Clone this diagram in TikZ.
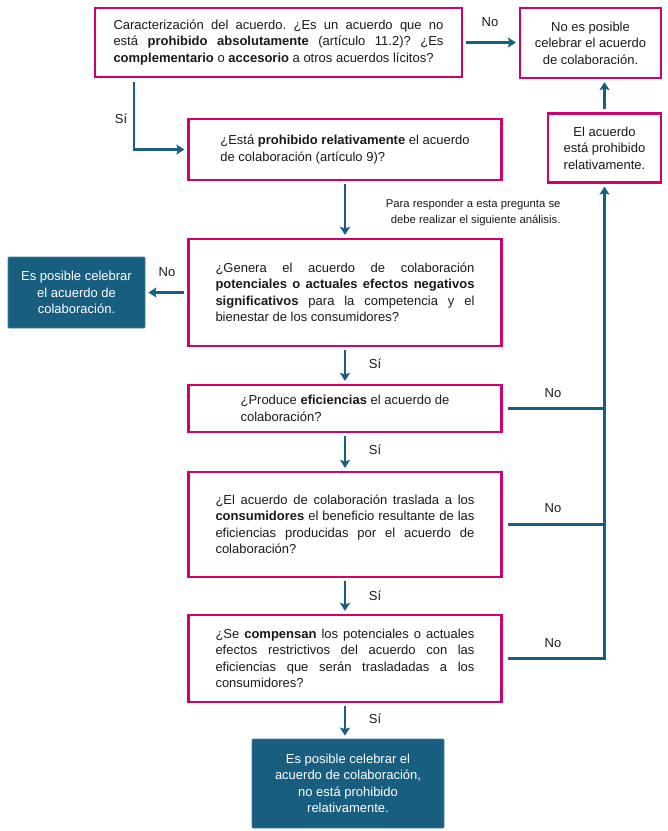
\documentclass[tikz,border=0pt]{standalone}
\usepackage{fontspec}
\setmainfont{Liberation Sans}
\usetikzlibrary{arrows.meta,calc}
\definecolor{pinkc}{HTML}{D1006C}
\definecolor{bluec}{HTML}{185E80}
\definecolor{txt}{HTML}{1A1A1A}
\begin{document}
\hyphenpenalty=10000 \exhyphenpenalty=10000 \frenchspacing
\begin{tikzpicture}[x=1pt,y=-1pt,
  every node/.style={font=\fontsize{13}{16.5}\selectfont, text=txt},
  qbox/.style={draw=pinkc, line width=2.2pt, fill=white, inner sep=0pt},
  rbox/.style={qbox, align=center},
  dbox/.style={fill=bluec, draw=bluec!80!white, line width=0.8pt, rounded corners=1pt, text=white, align=center, inner sep=0pt},
  arr/.style={draw=bluec, line width=2.7pt, -{Stealth[length=8pt,width=10pt,inset=1.5pt]}, shorten <=3pt, shorten >=3pt},
  ln/.style={draw=bluec, line width=2.7pt},
  lbl/.style={font=\fontsize{13}{15}\selectfont},
  jt/.style={align=justify, text width=259pt}
]
\useasboundingbox (0,0) rectangle (668,831);

\node[qbox, minimum width=367pt, minimum height=69pt, jt, text width=330pt] (b1) at (278.5,42.5)
 {Caracterización del acuerdo. ¿Es un acuerdo que no\linebreak
  está \textbf{prohibido absolutamente} (artículo 11.2)? ¿Es\linebreak
  \textbf{complementario} o \textbf{accesorio} a otros acuerdos lícitos?};

\node[rbox, minimum width=141pt, minimum height=70pt] (nb) at (590.5,43)
 {No es posible\\celebrar el acuerdo\\de colaboración.};

\node[qbox, minimum width=313pt, minimum height=61pt, align=left] (b2) at (345,149.5)
 {¿Está \textbf{prohibido relativamente} el acuerdo\\de colaboración (artículo 9)?};

\node[rbox, minimum width=113pt, minimum height=69pt] (ea) at (604.5,148)
 {El acuerdo\\está prohibido\\relativamente.};

\node[font=\fontsize{11.3}{16}\selectfont, align=right, anchor=east] (nota) at (564,213)
 {Para responder a esta pregunta se\\debe realizar el siguiente análisis.};

\node[qbox, minimum width=313pt, minimum height=107pt, jt] (b3) at (345,292.5)
 {¿Genera el acuerdo de colaboración\linebreak
  \textbf{potenciales o actuales efectos negativos}\linebreak
  \textbf{significativos} para la competencia y el\linebreak
  bienestar de los consumidores?};

\node[dbox, minimum width=137pt, minimum height=71pt] (dl) at (76.5,292.5)
 {Es posible celebrar\\el acuerdo de\\colaboración.};

\node[qbox, minimum width=313pt, minimum height=47pt, align=left] (b4) at (345,408.5)
 {¿Produce \textbf{eficiencias} el acuerdo de\\colaboración?};

\node[qbox, minimum width=313pt, minimum height=105pt, jt] (b5) at (345,524.5)
 {¿El acuerdo de colaboración traslada a los\linebreak
  \textbf{consumidores} el beneficio resultante de las\linebreak
  eficiencias producidas por el acuerdo de\linebreak
  colaboración?};

\node[qbox, minimum width=313pt, minimum height=87pt, jt] (b6) at (345,658.5)
 {¿Se \textbf{compensan} los potenciales o actuales\linebreak
  efectos restrictivos del acuerdo con las\linebreak
  eficiencias que serán trasladadas a los\linebreak
  consumidores?};

\node[dbox, minimum width=192pt, minimum height=89pt] (bd) at (348,783.5)
 {Es posible celebrar el\\acuerdo de colaboración,\\no está prohibido\\relativamente.};

% connectors
\draw[arr] (b1.east) -- (b1.east -| nb.west);
\node[lbl] (lno1) at (490,22) {No};

\coordinate (s1) at ($(b1.south west)+(40,0)$);
\draw[arr, shorten <=4pt] (s1) |- (b2.west);
\node[lbl] (lsi1) at (121,119) {Sí};

\draw[arr] (b2.south) -- (b3.north);

\draw[arr] (b3.west) -- (dl.east);
\node[lbl] (lno2) at (167,272) {No};

\draw[arr] (b3.south) -- (b4.north);
\node[lbl] (lsi2) at (375,364) {Sí};

\draw[arr] (b4.south) -- (b5.north);
\node[lbl] (lsi3) at (375,450) {Sí};

\draw[arr] (b5.south) -- (b6.north);
\node[lbl] (lsi4) at (375,596) {Sí};

\draw[arr] (b6.south) -- (b6.south |- bd.north);
\node[lbl] (lsi5) at (375,719) {Sí};

\draw[ln, shorten <=5pt] (b4.east) -- (b4.east -| ea.south);
\node[lbl] (lno3) at (553,393) {No};
\draw[ln, shorten <=5pt] (b5.east) -- (b5.east -| ea.south);
\node[lbl] (lno4) at (553,508) {No};
\draw[arr, shorten <=5pt] (b6.east) -| (ea.south);
\node[lbl] (lno5) at (553,643) {No};

\draw[arr] (ea.north) -- (ea.north |- nb.south);
\end{tikzpicture}
\end{document}
